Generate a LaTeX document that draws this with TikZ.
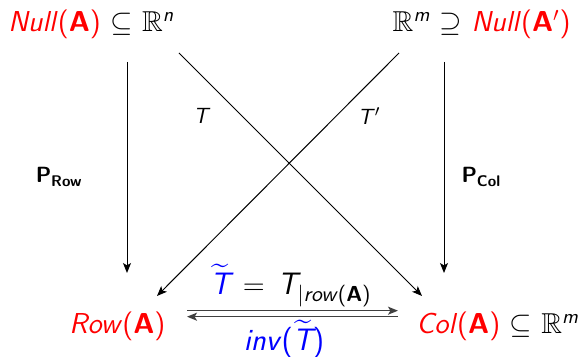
\documentclass[tikz,border=0pt]{standalone}
\usepackage{amsmath, amssymb}
\usepackage{xcolor}
\usetikzlibrary{calc, arrows.meta, positioning}

\newcommand{\vA}{\textbf{A}}
\newcommand{\Rsp}[1]{\ensuremath{\mathbb{R}^{\text{\itshape #1}}}}
\newcommand{\Tt}{\ensuremath{\widetilde{\text{\itshape T}}}}

\begin{document}
\begin{tikzpicture}[x=0.5pt, y=-0.5pt,
    space/.style={inner sep=0pt, font=\sffamily\Large},
    tag/.style={inner sep=0pt, font=\sffamily\fontsize{11}{13}\selectfont},
    bigtag/.style={inner sep=0pt, anchor=base, font=\sffamily\fontsize{15.5}{18}\selectfont},
    arrow/.style={draw=black, line width=0.5pt, -{Stealth[length=5pt, width=4pt, inset=1.2pt]}},
    pair/.style={draw=black!75, line width=0.8pt, -{Stealth[length=5pt, width=4pt, inset=1.2pt]}}
]
    \useasboundingbox (0,0) rectangle (579,357);

    \node [space, anchor=base west] (null) at (8, 32) {\textcolor{red}{\textit{Null}(\vA)} $\subseteq$ \Rsp{n}};
    \node [space, anchor=base east] (nullp) at (571, 32) {\Rsp{m} $\supseteq$ \textcolor{red}{\textit{Null}(\vA$'$)}};
    \node [space, anchor=base west] (row) at (69, 334) {\textcolor{red}{\textit{Row}(\vA)}};
    \node [space, anchor=base west] (col) at (416, 334) {\textcolor{red}{\textit{Col}(\vA)} $\subseteq$ \Rsp{m}};

    % projections
    \draw [arrow] ($(null.base west)+(119,30)$) -- node [tag, pos=0.545, left=22pt] {\textbf{P}$_{\text{\bfseries Row}}$} ($(row.base west)+(58,-61)$);
    \draw [arrow] ($(nullp.base east)+(-127,30)$) -- node [tag, pos=0.545, right=8.5pt] {\textbf{P}$_{\text{\bfseries Col}}$} ($(col.base west)+(28,-61)$);

    % crossing maps
    \draw [arrow] ($(null.base west)+(171,21)$) -- node [tag, pos=0.261, left=15.75pt] {\textit{T}} ($(col.base west)+(6,-38)$);
    \draw [arrow] ($(nullp.base east)+(-172,21)$) -- node [tag, pos=0.261, right=10.75pt] {\textit{T}$'$} ($(row.base west)+(88,-38)$);

    % restriction and its inverse
    \draw [pair] ($(row.base west)+(118,-23.3)$) -- node [bigtag, xshift=-0.75pt, yshift=7.85pt] {$\textcolor{blue}{\Tt} \,=\, \text{\itshape T}_{|\text{\textit{row}(\textbf{A})}}$} ($(col.base west)+(-18,-23.3)$);
    \draw [pair] ($(col.base west)+(-18,-17.3)$) -- node [bigtag, xshift=-4.25pt, yshift=-17.15pt] {\textcolor{blue}{\textit{inv}(\Tt)}} ($(row.base west)+(118,-17.3)$);
\end{tikzpicture}
\end{document}
